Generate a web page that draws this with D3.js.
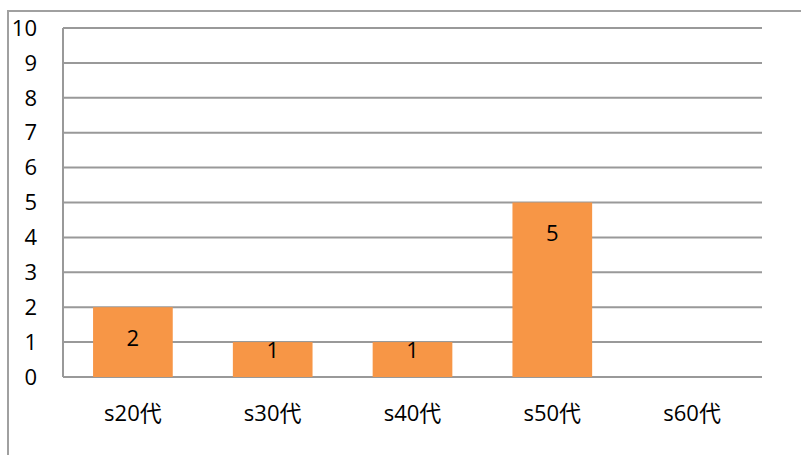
<!DOCTYPE html>
<html>
<head>
<meta charset="utf-8">
<script src="https://cdn.jsdelivr.net/npm/d3@7"></script>
<style>
  body { margin: 0; background: #fff; }
  text { font-family: "Open Sans", "Noto Sans CJK JP", sans-serif; fill: #000; }
</style>
</head>
<body>
<div id="container"></div>
<script>
let w = 801;
let h = 455;

// data
let categories = ["s20代", "s30代", "s40代", "s50代", "s60代"];
let values = [2, 1, 1, 5, 0];
let yTicks = [0, 1, 2, 3, 4, 5, 6, 7, 8, 9, 10];

let plotLeft = 63, plotRight = 762, plotTop = 28, plotBottom = 377;

let viz = d3.select("#container").append("svg")
    .attr("width", w)
    .attr("height", h);

// outer chart border (runs off the right / bottom edge)
viz.append("rect")
    .attr("x", 8)
    .attr("y", 11)
    .attr("width", w + 20)
    .attr("height", h + 20)
    .attr("fill", "white")
    .attr("stroke", "#a0a0a0")
    .attr("stroke-width", 2);

let xScale = d3.scaleBand().domain(categories).range([plotLeft, plotRight]).paddingInner(0.43).paddingOuter(0.215);
let yScale = d3.scaleLinear().domain([0, 10]).range([plotBottom, plotTop]);

// gridlines
viz.selectAll(".grid").data(yTicks).enter()
  .append("line")
    .attr("class", "grid")
    .attr("x1", plotLeft)
    .attr("x2", plotRight)
    .attr("y1", d => yScale(d))
    .attr("y2", d => yScale(d))
    .attr("stroke", "#999")
    .attr("stroke-width", 2);

// y axis line
viz.append("line")
    .attr("x1", plotLeft).attr("x2", plotLeft)
    .attr("y1", plotTop).attr("y2", plotBottom)
    .attr("stroke", "#999")
    .attr("stroke-width", 2);

// y tick labels
viz.selectAll(".ytick").data(yTicks).enter()
  .append("text")
    .attr("class", "ytick")
    .attr("x", 37)
    .attr("y", d => yScale(d))
    .attr("dy", "0.35em")
    .attr("text-anchor", "end")
    .style("font-size", "22px")
    .text(d => d);

// bars
viz.selectAll(".bar").data(values).enter()
  .append("rect")
    .attr("class", "bar")
    .attr("x", (d, i) => xScale(categories[i]))
    .attr("y", d => yScale(d))
    .attr("width", xScale.bandwidth())
    .attr("height", d => yScale(0) - yScale(d))
    .attr("fill", "#F79646");

// data labels
viz.selectAll(".lbl").data(values.map((v, i) => ({v: v, c: categories[i]})).filter(d => d.v > 0)).enter()
  .append("text")
    .attr("class", "lbl")
    .attr("x", d => xScale(d.c) + xScale.bandwidth() / 2)
    .attr("y", d => Math.min(yScale(d.v) + 31, yScale(0) - 27))
    .attr("dy", "0.35em")
    .attr("text-anchor", "middle")
    .style("font-size", "22px")
    .text(d => d.v);

// x labels
viz.selectAll(".xlbl").data(categories).enter()
  .append("text")
    .attr("class", "xlbl")
    .attr("x", d => xScale(d) + xScale.bandwidth() / 2)
    .attr("y", 413)
    .attr("dy", "0.35em")
    .attr("text-anchor", "middle")
    .style("font-size", "22px")
    .text(d => d);
</script>
</body>
</html>
